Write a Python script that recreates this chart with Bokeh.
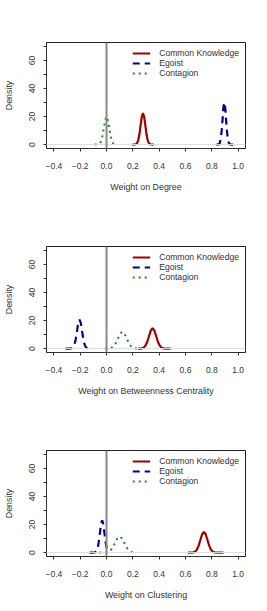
from bokeh.plotting import figure
from bokeh.models import (Range1d, FixedTicker, CustomJSTickFormatter, Span, Legend,
                          LegendItem)
from bokeh.layouts import column
from bokeh.embed import file_html
from bokeh.resources import INLINE

# ---------------- data ----------------
SERIES = ["Common Knowledge", "Egoist", "Contagion"]
X_TITLES = ["Weight on Degree", "Weight on Betweenness Centrality", "Weight on Clustering"]
Y_TITLE = "Density"
X_TICKS = [-0.4, -0.2, 0.0, 0.2, 0.4, 0.6, 0.8, 1.0]
Y_TICKS = [0, 20, 40, 60]
Y_MINOR = [10, 30, 50, 70]

# Panel 1: Degree
deg_ck_x = [0.196, 0.205, 0.214, 0.223, 0.232, 0.241, 0.250, 0.259, 0.268, 0.277,
            0.286, 0.295, 0.304, 0.313, 0.322, 0.331, 0.340, 0.349, 0.358]
deg_ck_y = [0.0, 0.01, 0.05, 0.25, 0.99, 3.04, 7.31, 13.65, 19.86, 22.5,
            19.86, 13.65, 7.31, 3.04, 0.99, 0.25, 0.05, 0.01, 0.0]
deg_eg_x = [0.835, 0.841, 0.848, 0.855, 0.861, 0.868, 0.875, 0.882, 0.888, 0.895,
            0.902, 0.908, 0.915, 0.922, 0.929, 0.935, 0.942, 0.949, 0.955, 0.962]
deg_eg_y = [0.0, 0.01, 0.07, 0.33, 1.32, 4.06, 9.74, 18.20, 26.48, 30.0,
            26.48, 18.20, 9.74, 4.06, 1.32, 0.33, 0.07, 0.01, 0.0, 0.0]
deg_co_x = [-0.09, -0.08, -0.07, -0.06, -0.05, -0.04, -0.03, -0.02, -0.01, 0.0,
            0.01, 0.02, 0.03, 0.04, 0.05, 0.06, 0.07]
deg_co_y = [0.0, 0.01, 0.04, 0.22, 0.88, 2.71, 6.49, 12.13, 17.65, 20.0,
            17.65, 12.13, 6.49, 2.71, 0.88, 0.22, 0.04]

# Panel 2: Betweenness Centrality
bet_ck_x = [0.240, 0.254, 0.2675, 0.281, 0.295, 0.309, 0.3225, 0.336, 0.350, 0.364,
            0.3775, 0.391, 0.405, 0.419, 0.4325, 0.446, 0.460, 0.474, 0.4875]
bet_ck_y = [0.0, 0.03, 0.16, 0.64, 1.96, 4.71, 8.79, 12.80, 14.5, 12.80,
            8.79, 4.71, 1.96, 0.64, 0.16, 0.03, 0.0, 0.0, 0.0]
bet_eg_x = [-0.312, -0.302, -0.292, -0.283, -0.273, -0.263, -0.254, -0.244, -0.234, -0.224,
            -0.215, -0.205, -0.195, -0.186, -0.176, -0.166, -0.157, -0.147, -0.137, -0.127]
bet_eg_y = [0.0, 0.0, 0.0, 0.01, 0.05, 0.23, 0.90, 2.79, 6.69, 12.49,
            18.18, 20.6, 18.18, 12.49, 6.69, 2.79, 0.90, 0.23, 0.05, 0.01]
bet_co_x = [-0.012, 0.0045, 0.021, 0.0375, 0.054, 0.0705, 0.087, 0.1035, 0.120, 0.1365,
            0.153, 0.1695, 0.186, 0.2025, 0.219, 0.2355]
bet_co_y = [0.0, 0.03, 0.13, 0.53, 1.62, 3.90, 7.28, 10.59, 12.0, 10.59,
            7.28, 3.90, 1.62, 0.53, 0.13, 0.03]

# Panel 3: Clustering
clu_ck_x = [0.6185, 0.632, 0.6455, 0.659, 0.6725, 0.686, 0.6995, 0.713, 0.7265, 0.740,
            0.7535, 0.767, 0.7805, 0.794, 0.8075, 0.821, 0.8345, 0.848, 0.8615, 0.875, 0.8885]
clu_ck_y = [0.0, 0.0, 0.03, 0.16, 0.65, 2.00, 4.81, 8.98, 13.06, 14.8,
            13.06, 8.98, 4.81, 2.00, 0.65, 0.16, 0.03, 0.0, 0.0, 0.0, 0.0]
clu_eg_x = [-0.1282, -0.1195, -0.1109, -0.1022, -0.0936, -0.0849, -0.0763, -0.0676, -0.0590,
            -0.0503, -0.0417, -0.0330, -0.0244, -0.0157, -0.0071, 0.0016, 0.0103]
clu_eg_y = [0.0, 0.0, 0.0, 0.01, 0.05, 0.26, 1.01, 3.11, 7.47,
            13.95, 20.30, 23.0, 20.30, 13.95, 7.47, 3.11, 1.01]
clu_co_x = [-0.0562, -0.0388, -0.0215, -0.0041, 0.0133, 0.0306, 0.0480, 0.0653, 0.0827, 0.100,
            0.1174, 0.1347, 0.1521, 0.1694, 0.1868, 0.2041]
clu_co_y = [0.0, 0.0, 0.03, 0.13, 0.50, 1.56, 3.73, 6.97, 10.15, 11.5,
            10.15, 6.97, 3.73, 1.56, 0.50, 0.13]

PANELS = [
    (X_TITLES[0], (deg_ck_x, deg_ck_y), (deg_eg_x, deg_eg_y), (deg_co_x, deg_co_y)),
    (X_TITLES[1], (bet_ck_x, bet_ck_y), (bet_eg_x, bet_eg_y), (bet_co_x, bet_co_y)),
    (X_TITLES[2], (clu_ck_x, clu_ck_y), (clu_eg_x, clu_eg_y), (clu_co_x, clu_co_y)),
]

# ---------------- style ----------------
FONT = "Liberation Sans"
TXT = "#333333"
COLORS = ["#a00000", "#00008b", "#1a8a1a"]
HEIGHTS = [204, 204, 203]
FRAME_W, FRAME_H = 202, 106
BORDER_L, BORDER_T = 43, 42
WIDTH = 267


def make_panel(title, ck, eg, co, height):
    p = figure(width=WIDTH, height=height, output_backend="svg", toolbar_location=None,
               x_range=Range1d(-0.456, 1.056), y_range=Range1d(-2.8, 72.8),
               min_border_left=BORDER_L, min_border_right=WIDTH - BORDER_L - FRAME_W,
               min_border_top=BORDER_T,
               min_border_bottom=height - BORDER_T - FRAME_H)
    p.grid.visible = False
    p.outline_line_color = "#222222"
    p.outline_line_width = 1
    p.background_fill_color = "white"
    p.border_fill_color = "white"

    # zero reference line
    p.add_layout(Span(location=0, dimension="width", line_color="#dddddd", line_width=1))

    r_ck = p.line(ck[0], ck[1], line_color=COLORS[0], line_width=2.2)
    r_eg = p.line(eg[0], eg[1], line_color=COLORS[1], line_width=2.2,
                  line_dash="7 5")
    r_co = p.line(co[0], co[1], line_color=COLORS[2], line_width=2,
                  line_dash="2 4")

    p.add_layout(Span(location=0, dimension="height", line_color="#888888", line_width=2))

    xa = p.xaxis[0]
    xa.ticker = FixedTicker(ticks=X_TICKS)
    xa.formatter = CustomJSTickFormatter(
        code="return (tick < -1e-9 ? '\\u2212' : '') + Math.abs(tick).toFixed(1);")
    xa.bounds = (-0.4, 1.0)
    xa.axis_label = title
    ya = p.yaxis[0]
    ya.ticker = FixedTicker(ticks=Y_TICKS, minor_ticks=Y_MINOR)
    ya.bounds = (0, 70)
    ya.axis_label = Y_TITLE
    ya.major_label_orientation = "vertical"

    for ax in (xa, ya):
        ax.axis_line_color = TXT
        ax.major_tick_line_color = TXT
        ax.minor_tick_line_color = TXT
        ax.major_tick_out = 3
        ax.major_tick_in = 0
        ax.minor_tick_out = 3
        ax.minor_tick_in = 0
        ax.major_label_text_font = FONT
        ax.major_label_text_font_size = "8.5px"
        ax.major_label_text_color = TXT
        ax.axis_label_text_font = FONT
        ax.axis_label_text_font_size = "8.9px"
        ax.axis_label_text_font_style = "normal"
        ax.axis_label_text_color = TXT
    xa.minor_tick_line_color = None
    xa.major_label_standoff = 11
    xa.axis_label_standoff = 10
    ya.major_label_standoff = 8
    ya.axis_label_standoff = 13

    legend = Legend(items=[LegendItem(label=SERIES[0], renderers=[r_ck]),
                           LegendItem(label=SERIES[1], renderers=[r_eg]),
                           LegendItem(label=SERIES[2], renderers=[r_co])],
                    location="top_right")
    legend.border_line_color = None
    legend.background_fill_alpha = 0
    legend.padding = 0
    legend.margin = 6
    legend.spacing = 0
    legend.glyph_width = 18
    legend.glyph_height = 10
    legend.label_height = 10
    legend.label_standoff = 9
    legend.label_text_font = FONT
    legend.label_text_font_size = "8.6px"
    legend.label_text_color = TXT
    p.add_layout(legend)
    return p


figs = [make_panel(t, ck, eg, co, h) for (t, ck, eg, co), h in zip(PANELS, HEIGHTS)]
layout = column(*figs, spacing=0)

with open("out.html", "w") as f:
    f.write(file_html(layout, INLINE))
